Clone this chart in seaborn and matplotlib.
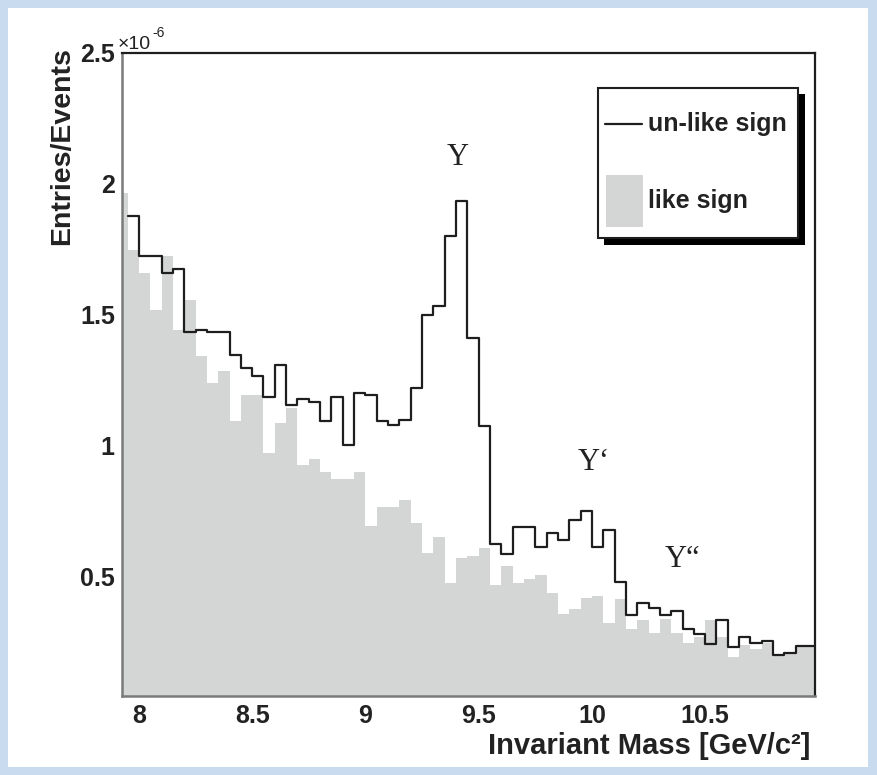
import numpy as np
import pandas as pd
import matplotlib
matplotlib.use("Agg")
import matplotlib.pyplot as plt
import seaborn as sns
from matplotlib.patches import Rectangle
from matplotlib.lines import Line2D

# ---- histogram contents (entries/events, in units of 1e-6), bin width 0.05 GeV/c^2 ----
bin_width = 0.05
like_start = 7.90
like_sign = [1.966, 1.748, 1.660, 1.519, 1.723, 1.443, 1.557, 1.341, 1.240, 1.284,
             1.093, 1.195, 1.195, 0.972, 1.087, 1.145, 0.927, 0.949, 0.902, 0.873,
             0.873, 0.902, 0.695, 0.768, 0.768, 0.794, 0.705, 0.590, 0.652, 0.478,
             0.571, 0.580, 0.609, 0.469, 0.542, 0.476, 0.491, 0.508, 0.438, 0.359,
             0.377, 0.419, 0.427, 0.326, 0.415, 0.300, 0.336, 0.285, 0.339, 0.287,
             0.249, 0.270, 0.336, 0.270, 0.194, 0.240, 0.224, 0.247, 0.202, 0.209,
             0.234, 0.234]

unlike_start = 7.95
unlike_sign = [1.875, 1.725, 1.725, 1.659, 1.674, 1.436, 1.443, 1.436, 1.436, 1.347,
               1.297, 1.265, 1.188, 1.309, 1.156, 1.178, 1.169, 1.093, 1.188, 1.004,
               1.203, 1.195, 1.093, 1.080, 1.099, 1.220, 1.500, 1.534, 1.799, 1.932,
               1.411, 1.074, 0.626, 0.588, 0.690, 0.690, 0.616, 0.669, 0.641, 0.718,
               0.752, 0.616, 0.679, 0.480, 0.355, 0.400, 0.380, 0.355, 0.371, 0.301,
               0.282, 0.244, 0.336, 0.234, 0.270, 0.249, 0.257, 0.202, 0.209, 0.237,
               0.237]

x_ticks = [8.0, 8.5, 9.0, 9.5, 10.0, 10.5]
x_tick_labels = ["8", "8.5", "9", "9.5", "10", "10.5"]
y_ticks = [0.5, 1.0, 1.5, 2.0, 2.5]
y_tick_labels = ["0.5", "1", "1.5", "2", "2.5"]

peak_labels = ["\u03a5", "\u03a5\u2018", "\u03a5\u201c"]
peak_x = [9.405, 10.01, 10.40]
peak_y = [2.10, 0.935, 0.565]

legend_labels = ["un-like sign", "like sign"]


def to_frame(start, values):
    n = len(values)
    centers = start + bin_width * (np.arange(n) + 0.5)
    rng = (start, start + bin_width * n)
    return pd.DataFrame({"mass": centers, "w": values}), rng


like_df, like_range = to_frame(like_start, like_sign)
unlike_df, unlike_range = to_frame(unlike_start, unlike_sign)

sns.set_style("white")
plt.rcParams["font.family"] = ["Liberation Sans", "DejaVu Sans"]

W, H = 878, 775
fig = plt.figure(figsize=(W / 100, H / 100), dpi=100)
fig.patch.set_facecolor("#c9dcef")


def fx(px):
    return px / W


def fy(py):
    return 1 - py / H


# white page inside the light-blue border
fig.add_artist(Rectangle((fx(8), fy(767)), fx(868) - fx(8), fy(8) - fy(767),
                         transform=fig.transFigure, facecolor="white",
                         edgecolor="none", zorder=-10))

ax = fig.add_axes([fx(121.7), fy(696), fx(815) - fx(121.7), fy(52.5) - fy(696)])
ax.set_facecolor("white")

fill_col = "#d4d5d5"
line_col = "#1e1e1e"
text_col = "#222222"

sns.histplot(data=like_df, x="mass", weights="w", binwidth=bin_width,
             binrange=like_range, element="step", fill=True, color=fill_col,
             alpha=1.0, linewidth=0, ax=ax)
sns.histplot(data=unlike_df, x="mass", weights="w", binwidth=bin_width,
             binrange=unlike_range, element="step", fill=False, color=line_col,
             linewidth=1.6, ax=ax)

ax.set_xlim(7.924, 10.985)
ax.set_ylim(0.046, 2.5)
ax.set_axisbelow(True)

ax.set_xticks(x_ticks)
ax.set_xticklabels(x_tick_labels)
ax.set_yticks(y_ticks)
ax.set_yticklabels(y_tick_labels)
ax.set_yticks(np.arange(0.1, 2.5, 0.1), minor=True)
ax.tick_params(axis="y", which="major", direction="in", length=13, width=1.0,
               color="#333333", pad=5, labelsize=18, labelcolor=text_col)
ax.tick_params(axis="y", which="minor", direction="in", length=7, width=1.0,
               color="#333333")
ax.tick_params(axis="x", which="major", direction="in", length=12, width=1.0,
               color="#333333", pad=6, labelsize=18, labelcolor=text_col)
for lab in ax.get_xticklabels() + ax.get_yticklabels():
    lab.set_fontweight("bold")

for side in ["top", "right"]:
    ax.spines[side].set_color("#1e1e1e")
    ax.spines[side].set_linewidth(1.6)
for side in ["left", "bottom"]:
    ax.spines[side].set_color("#7a7a7a")
    ax.spines[side].set_linewidth(1.8)

ax.set_xlabel("")
ax.set_ylabel("")
fig.text(fx(810), fy(746), "Invariant Mass [GeV/c\u00b2]", ha="right", va="center",
         fontsize=21, fontweight="bold", color=text_col)
fig.text(fx(62), fy(47), "Entries/Events", ha="center", va="top", rotation=90,
         fontsize=20.5, fontweight="bold", color=text_col)
fig.text(fx(118), fy(53), "\u00d710", ha="left", va="bottom", fontsize=14,
         color=text_col)
fig.text(fx(152), fy(40), "-6", ha="left", va="bottom", fontsize=10,
         color=text_col)

for lab, xx, yy in zip(peak_labels, peak_x, peak_y):
    ax.text(xx, yy, lab, ha="center", va="center", fontsize=22,
            family=["Liberation Serif", "DejaVu Serif"], color=text_col)

# legend box with a solid drop shadow
shadow = Rectangle((fx(604), fy(245)), fx(805) - fx(604), fy(94) - fy(245),
                   transform=fig.transFigure, facecolor="black", edgecolor="none",
                   zorder=5)
box = Rectangle((fx(598), fy(238)), fx(798) - fx(598), fy(88) - fy(238),
                transform=fig.transFigure, facecolor="white", edgecolor="#1e1e1e",
                linewidth=1.5, zorder=6)
fig.add_artist(shadow)
fig.add_artist(box)
fig.add_artist(Line2D([fx(605), fx(642)], [fy(124), fy(124)], transform=fig.transFigure,
                      color=line_col, linewidth=1.6, zorder=7))
fig.add_artist(Rectangle((fx(606), fy(227)), fx(643) - fx(606), fy(175) - fy(227),
                         transform=fig.transFigure, facecolor=fill_col,
                         edgecolor="none", zorder=7))
fig.text(fx(648), fy(124), legend_labels[0], ha="left", va="center", fontsize=18,
         fontweight="bold", color=text_col, zorder=8)
fig.text(fx(648), fy(201), legend_labels[1], ha="left", va="center", fontsize=18,
         fontweight="bold", color=text_col, zorder=8)

fig.savefig("out.png", dpi=100, facecolor=fig.get_facecolor())
